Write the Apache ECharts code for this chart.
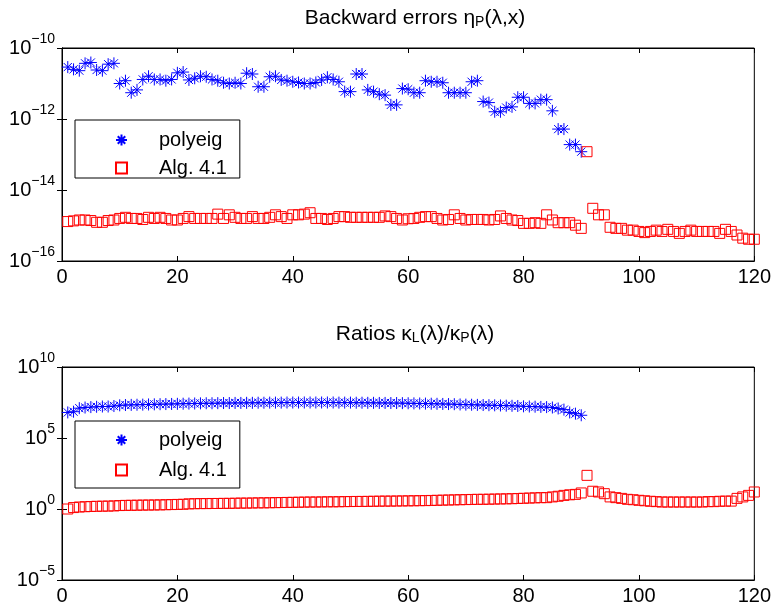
<!DOCTYPE html>
<html>
<head>
<meta charset="utf-8">
<title>Backward errors and ratios</title>
<script src="https://cdn.jsdelivr.net/npm/echarts@6/dist/echarts.min.js"></script>
<style>
  html, body { margin: 0; padding: 0; background: #fff; }
  #chart { width: 774px; height: 609px; }
</style>
</head>
<body>
<div id="chart"></div>
<script>
// backward errors, top panel (index k = 1..n)
const polyeigErr = [
  2.9e-11, 2.5e-11, 2.3e-11, 3.7e-11, 3.9e-11, 2.4e-11, 2.3e-11, 3.5e-11, 3.7e-11, 1.0e-11,
  1.2e-11, 5.5e-12, 6.6e-12, 1.3e-11, 1.6e-11, 1.3e-11, 1.3e-11, 1.2e-11, 1.3e-11, 2.0e-11,
  2.1e-11, 1.26e-11, 1.4e-11, 1.6e-11, 1.55e-11, 1.3e-11, 1.2e-11, 1.05e-11, 1.0e-11, 1.05e-11,
  1.0e-11, 1.95e-11, 1.85e-11, 8.1e-12, 8.1e-12, 1.55e-11, 1.6e-11, 1.26e-11, 1.2e-11, 1.12e-11,
  1.07e-11, 1.0e-11, 1.0e-11, 1.07e-11, 1.26e-11, 1.5e-11, 1.3e-11, 1.12e-11, 5.9e-12, 5.9e-12,
  1.85e-11, 1.85e-11, 6.6e-12, 5.9e-12, 5.0e-12, 4.7e-12, 2.5e-12, 2.5e-12, 7.2e-12, 6.9e-12,
  5.5e-12, 5.5e-12, 1.2e-11, 1.12e-11, 1.12e-11, 1.05e-11, 5.5e-12, 5.5e-12, 5.5e-12, 5.5e-12,
  1.12e-11, 1.2e-11, 3.1e-12, 2.9e-12, 1.6e-12, 1.6e-12, 2.1e-12, 2.2e-12, 4.1e-12, 4.1e-12,
  2.75e-12, 2.75e-12, 3.5e-12, 3.5e-12, 1.7e-12, 5.2e-13, 5.2e-13, 1.9e-13, 1.9e-13, 1.2e-13
];
const algErr = [
  1.29e-15, 1.35e-15, 1.43e-15, 1.43e-15, 1.38e-15, 1.23e-15, 1.23e-15, 1.38e-15, 1.43e-15, 1.58e-15,
  1.70e-15, 1.58e-15, 1.58e-15, 1.48e-15, 1.70e-15, 1.58e-15, 1.70e-15, 1.58e-15, 1.43e-15, 1.43e-15,
  1.58e-15, 1.78e-15, 1.58e-15, 1.58e-15, 1.58e-15, 1.58e-15, 2.09e-15, 1.58e-15, 2.0e-15, 1.70e-15,
  1.58e-15, 1.58e-15, 1.78e-15, 1.58e-15, 1.58e-15, 1.70e-15, 2.0e-15, 1.78e-15, 1.58e-15, 2.0e-15,
  2.0e-15, 2.09e-15, 2.29e-15, 1.58e-15, 1.58e-15, 1.48e-15, 1.58e-15, 1.78e-15, 1.78e-15, 1.70e-15,
  1.70e-15, 1.70e-15, 1.70e-15, 1.70e-15, 1.70e-15, 1.86e-15, 1.78e-15, 1.58e-15, 1.43e-15, 1.55e-15,
  1.58e-15, 1.70e-15, 1.78e-15, 1.78e-15, 1.58e-15, 1.43e-15, 1.48e-15, 2.0e-15, 1.58e-15, 1.43e-15,
  1.48e-15, 1.48e-15, 1.48e-15, 1.43e-15, 1.48e-15, 1.86e-15, 1.58e-15, 1.43e-15, 1.38e-15, 1.15e-15,
  1.15e-15, 1.2e-15, 1.15e-15, 2.0e-15, 1.43e-15, 1.2e-15, 1.2e-15, 1.2e-15, 1.02e-15, 8.3e-16,
  1.2e-13, 3.05e-15, 2.0e-15, 2.0e-15, 8.9e-16, 8.3e-16, 8.3e-16, 7.4e-16, 7.4e-16, 6.8e-16,
  6.3e-16, 6.8e-16, 7.4e-16, 6.8e-16, 7.8e-16, 6.8e-16, 6.0e-16, 6.8e-16, 7.4e-16, 6.8e-16,
  6.8e-16, 6.8e-16, 6.8e-16, 6.0e-16, 7.8e-16, 6.8e-16, 5.4e-16, 4.4e-16, 4.1e-16, 4.1e-16
];

// condition number ratios, bottom panel
const polyeigRatio = [
  6.3e6, 7.1e6, 1.26e7, 1.4e7, 1.5e7, 1.58e7, 1.65e7, 1.65e7, 1.78e7, 2.0e7,
  2.1e7, 2.15e7, 2.2e7, 2.24e7, 2.3e7, 2.35e7, 2.4e7, 2.45e7, 2.5e7, 2.55e7,
  2.6e7, 2.65e7, 2.7e7, 2.75e7, 2.8e7, 2.8e7, 2.85e7, 2.9e7, 2.9e7, 2.95e7,
  2.95e7, 3.0e7, 3.0e7, 3.05e7, 3.05e7, 3.1e7, 3.1e7, 3.1e7, 3.15e7, 3.15e7,
  3.15e7, 3.16e7, 3.16e7, 3.16e7, 3.16e7, 3.16e7, 3.16e7, 3.1e7, 3.1e7, 3.1e7,
  3.05e7, 3.05e7, 3.0e7, 3.0e7, 2.95e7, 2.95e7, 2.9e7, 2.9e7, 2.85e7, 2.8e7,
  2.75e7, 2.7e7, 2.65e7, 2.6e7, 2.55e7, 2.5e7, 2.45e7, 2.4e7, 2.3e7, 2.24e7,
  2.2e7, 2.15e7, 2.1e7, 2.05e7, 2.0e7, 1.95e7, 1.9e7, 1.85e7, 1.8e7, 1.7e7,
  1.65e7, 1.6e7, 1.55e7, 1.5e7, 1.4e7, 1.2e7, 1.0e7, 6.3e6, 5.2e6, 4.0e6
];
const algRatio = [
  1.0, 1.26, 1.38, 1.45, 1.5, 1.55, 1.58, 1.6, 1.65, 1.75,
  1.8, 1.82, 1.85, 1.88, 1.9, 1.92, 1.95, 2.0, 2.05, 2.1,
  2.15, 2.3, 2.35, 2.4, 2.4, 2.45, 2.45, 2.5, 2.5, 2.55,
  2.6, 2.6, 2.65, 2.7, 2.7, 2.75, 2.8, 2.85, 2.9, 2.95,
  3.0, 3.05, 3.1, 3.1, 3.15, 3.2, 3.2, 3.25, 3.3, 3.35,
  3.4, 3.4, 3.45, 3.5, 3.55, 3.6, 3.6, 3.65, 3.7, 3.75,
  3.8, 3.85, 3.9, 4.0, 4.1, 4.2, 4.3, 4.4, 4.5, 4.6,
  4.7, 4.8, 4.8, 4.9, 5.0, 5.1, 5.2, 5.3, 5.5, 5.7,
  5.9, 6.1, 6.3, 6.3, 7.1, 7.9, 9.1, 10, 10.7, 13.5,
  234, 17.8, 15.8, 12, 7.1, 6.3, 5.6, 4.8, 4.5, 4.1,
  3.8, 3.5, 3.3, 3.1, 3.1, 3.1, 3.1, 3.1, 3.1, 3.1,
  3.1, 3.3, 3.3, 3.5, 3.6, 3.6, 5.6, 7.1, 9.1, 15.8
];

const xTicks = [0, 20, 40, 60, 80, 100, 120];
const topExponents = [-16, -14, -12, -10];
const bottomExponents = [-5, 0, 5, 10];

const BLUE = '#0000ff';
const RED = '#ff0000';
const FONT = 'Liberation Sans';
const ASTERISK = 'path://M5,0L5,10M0,5L10,5M1.6,1.6L8.4,8.4M8.4,1.6L1.6,8.4';

const chart = echarts.init(document.getElementById('chart'), null, { renderer: 'canvas' });

function pairs(arr) {
  return arr.map((v, i) => [i + 1, v]);
}

function powLabel(v) {
  const e = Math.round(Math.log10(v));
  const s = e < 0 ? '\u2212' + (-e) : String(e);
  return '{b|10}{s|' + s + '}';
}

const powRich = {
  b: { fontSize: 20, fontFamily: FONT, color: '#000', lineHeight: 24 },
  s: { fontSize: 14, fontFamily: FONT, color: '#000', lineHeight: 24, padding: [0, 0, 18, 0] }
};

function xAxes(grid) {
  return [
    {
      type: 'value', gridIndex: grid, min: xTicks[0], max: xTicks[xTicks.length - 1],
      interval: xTicks[1] - xTicks[0], position: 'bottom',
      axisLine: { show: true, lineStyle: { color: '#000', width: 1 } },
      axisTick: { inside: true, length: 5, lineStyle: { color: '#000' } },
      axisLabel: { color: '#000', fontSize: 20, fontFamily: FONT, margin: 6 },
      splitLine: { show: false }
    },
    {
      type: 'value', gridIndex: grid, min: xTicks[0], max: xTicks[xTicks.length - 1],
      interval: xTicks[1] - xTicks[0], position: 'top',
      axisLine: { show: true, lineStyle: { color: '#000', width: 1 } },
      axisTick: { inside: true, length: 5, lineStyle: { color: '#000' } },
      axisLabel: { show: false },
      splitLine: { show: false }
    }
  ];
}

function yAxes(grid, exps) {
  const step = exps[1] - exps[0];
  const lo = Math.pow(10, exps[0]);
  const hi = Math.pow(10, exps[exps.length - 1]);
  return [
    {
      type: 'log', logBase: 10, gridIndex: grid, min: lo, max: hi, interval: step, position: 'left',
      axisLine: { show: true, lineStyle: { color: '#000', width: 1 } },
      axisTick: { inside: true, length: 5, lineStyle: { color: '#000' } },
      minorTick: { show: false },
      axisLabel: { formatter: powLabel, rich: powRich, margin: 7 },
      splitLine: { show: false }
    },
    {
      type: 'log', logBase: 10, gridIndex: grid, min: lo, max: hi, interval: step, position: 'right',
      axisLine: { show: true, lineStyle: { color: '#000', width: 1 } },
      axisTick: { inside: true, length: 5, lineStyle: { color: '#000' } },
      minorTick: { show: false },
      axisLabel: { show: false },
      splitLine: { show: false }
    }
  ];
}

function starSeries(name, data, xi, yi) {
  return {
    name: name, type: 'scatter', xAxisIndex: xi, yAxisIndex: yi,
    symbol: ASTERISK, symbolSize: 12,
    itemStyle: { color: 'rgba(0,0,0,0)', borderColor: BLUE, borderWidth: 1, opacity: 1 },
    emphasis: { disabled: true },
    data: pairs(data)
  };
}

function squareSeries(name, data, xi, yi) {
  return {
    name: name, type: 'scatter', xAxisIndex: xi, yAxisIndex: yi,
    symbol: 'rect', symbolSize: 10,
    itemStyle: { color: 'rgba(0,0,0,0)', borderColor: RED, borderWidth: 1, opacity: 1 },
    emphasis: { disabled: true },
    data: pairs(data)
  };
}

function legendBox(top, pad, gap) {
  return {
    data: ['polyeig', 'Alg. 4.1'],
    orient: 'vertical', left: 75, top: top,
    padding: pad, itemGap: gap,
    itemWidth: 11, itemHeight: 11,
    borderColor: '#000', borderWidth: 1, backgroundColor: '#fff',
    selectedMode: false,
    textStyle: { fontSize: 20, fontFamily: FONT, color: '#000', lineHeight: 20, padding: [0, 0, 0, 27] }
  };
}

const titleRich = {
  a: { fontSize: 21, fontFamily: FONT, color: '#000', fontWeight: 'normal', lineHeight: 26 },
  sub: { fontSize: 14, fontFamily: FONT, color: '#000', fontWeight: 'normal', lineHeight: 26, padding: [8, 0, 0, 0] }
};

chart.setOption({
  backgroundColor: '#fff',
  animation: false,
  title: [
    {
      text: '{a|Backward errors \u03b7}{sub|P}{a|(\u03bb,x)}',
      left: 410, top: 0, textAlign: 'center',
      textStyle: { fontWeight: 'normal', rich: titleRich }
    },
    {
      text: '{a|Ratios \u03ba}{sub|L}{a|(\u03bb)/\u03ba}{sub|P}{a|(\u03bb)}',
      left: 410, top: 316, textAlign: 'center',
      textStyle: { fontWeight: 'normal', rich: titleRich }
    }
  ],
  grid: [
    { left: 62, width: 695, top: 48, height: 213, show: true, borderColor: '#000', borderWidth: 1 },
    { left: 62, width: 695, top: 367, height: 213, show: true, borderColor: '#000', borderWidth: 1 }
  ],
  xAxis: xAxes(0).concat(xAxes(1)),
  yAxis: yAxes(0, topExponents).concat(yAxes(1, bottomExponents)),
  legend: [
    legendBox(120, [10, 13, 0, 40], 8),
    legendBox(421, [9, 13, 8, 40], 10)
  ],
  series: [
    starSeries('polyeig', polyeigErr, 0, 0),
    squareSeries('Alg. 4.1', algErr, 0, 0),
    starSeries('polyeig', polyeigRatio, 2, 2),
    squareSeries('Alg. 4.1', algRatio, 2, 2)
  ]
});
</script>
</body>
</html>
